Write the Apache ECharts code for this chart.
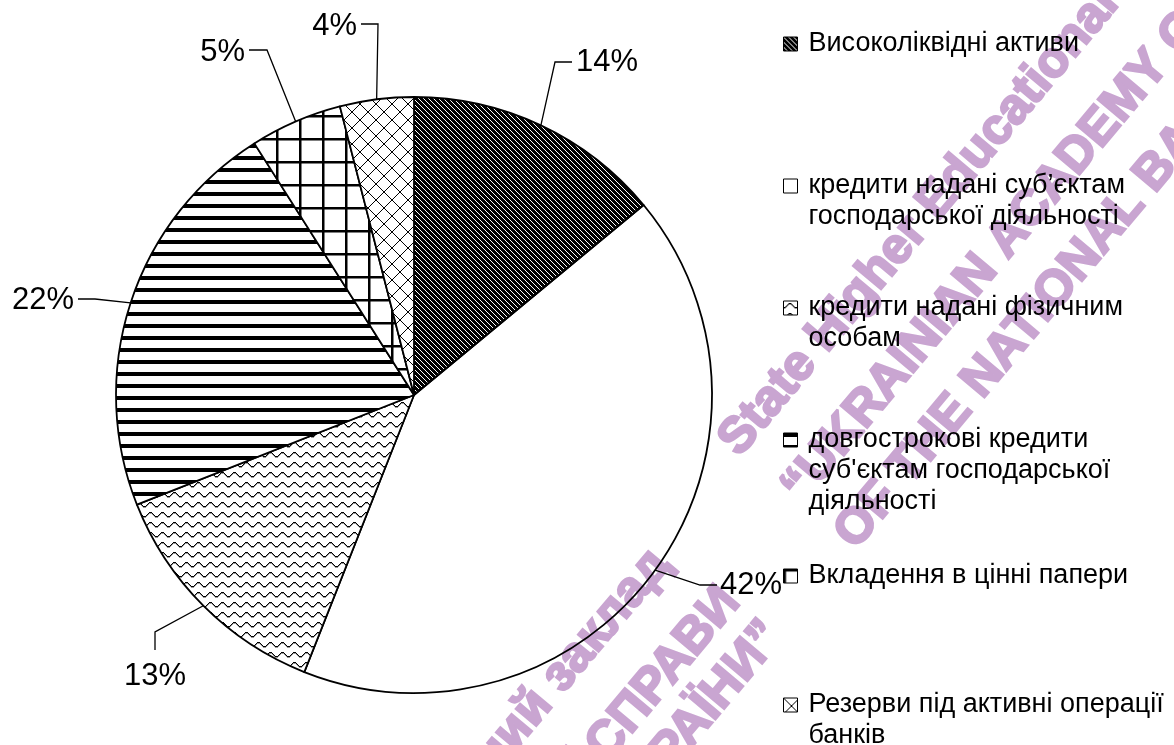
<!DOCTYPE html>
<html><head><meta charset="utf-8">
<script src="https://cdn.jsdelivr.net/npm/echarts@6.0.0/dist/echarts.min.js"></script>
<style>html,body{margin:0;padding:0;background:#fff}#c{width:1174px;height:745px}</style>
</head><body><div id="c"></div><script>
// ---- data ----
const categories = [
  'Високоліквідні активи',
  'кредити надані суб’єктам господарської діяльності',
  'кредити надані фізичним особам',
  'довгострокові кредити суб\'єктам господарської діяльності',
  'Вкладення в цінні папери',
  'Резерви під активні операції банків'
];
const shares = [14, 42, 13, 22, 5, 4];
const legendLines = [
  ['Високоліквідні активи'],
  ['кредити надані суб’єктам', 'господарської діяльності'],
  ['кредити надані фізичним', 'особам'],
  ['довгострокові кредити', 'суб\'єктам господарської', 'діяльності'],
  ['Вкладення в цінні папери'],
  ['Резерви під активні операції', 'банків']
];
const watermarkEn = ['State Higher Educational Institution', '“UKRAINIAN ACADEMY OF BANKING', 'OF THE NATIONAL BANK OF UKRAINE”'];
const watermarkUa = ['Державний вищий навчальний заклад', '“УКРАЇНСЬКА АКАДЕМІЯ БАНКІВСЬКОЇ СПРАВИ', 'НАЦІОНАЛЬНОГО БАНКУ УКРАЇНИ”'];

// ---- patterns ----
function cv(w, h, draw) { const c = document.createElement('canvas'); c.width = w; c.height = h; const g = c.getContext('2d'); g.fillStyle = '#fff'; g.fillRect(0, 0, w, h); g.fillStyle = '#000'; draw(g, w, h); return c; }
const patDiag = cv(5, 5, (g) => { g.fillRect(0,0,5,5); g.fillStyle='#fff'; for (let y=0;y<5;y++) for (let x=0;x<5;x++){ const d=((x-y)%5+5)%5; if (d===0) g.fillRect(x,y,1,1);} });
const patWave = cv(12, 10, (g) => { const ys=[4,4,3,2,1,0,0,0,1,2,3,4]; for (let x=0;x<12;x++) g.fillRect(x, ys[x]+2, 1, 1.4); });
const patHoriz = cv(4, 12, (g) => { g.fillRect(0,0,4,4); });
const patGrid = cv(23, 23, (g) => { g.fillRect(0,0,23,2.5); g.fillRect(0,0,2.5,23); });
const patDiamond = cv(16, 16, (g) => { for (let i=0;i<16;i++){ g.fillRect(i,i,1,1); g.fillRect(15-i,i,1,1);} });
const patterns = [patDiag, null, patWave, patHoriz, patGrid, patDiamond];

// ---- layout (label placement) ----
const labelSpots = [
  {elbow:[555,62], end:[572,62], at:[576,62], align:'left'},
  {elbow:[700,585], end:[717,585], at:[720,585], align:'left'},
  {elbow:[155,632], end:[155,650], at:[155,676], align:'center'},
  {elbow:[95,299], end:[78,299], at:[74,300], align:'right'},
  {elbow:[267,50], end:[249,50], at:[245,52], align:'right'},
  {elbow:[378,24], end:[361,24], at:[357,26], align:'right'}
];
const legendFirstLine = [40, 182, 304, 436, 572, 701];
const LH = 31;
const FONT = '"Liberation Sans", Arial, sans-serif';

const chart = echarts.init(document.getElementById('c'), null, {renderer: 'canvas'});
const rot = 50 * Math.PI / 180;
const wmStyle = (t, al) => ({text: t, font: 'bold 50px ' + FONT, fill: '#c9a5d1', stroke: '#c9a5d1', lineWidth: 2.5,
  align: al, textAlign: al, verticalAlign: 'bottom', textVerticalAlign: 'bottom'});
const wmPos = [[748,465],[811,512],[864,558]];
const wmPosUa = [[680,572],[750,610],[793,644]];
const graphics = [];
watermarkEn.forEach((t,i)=>graphics.push({type:'text', x: wmPos[i][0], y: wmPos[i][1], rotation: rot, z: -1, silent: true, style: wmStyle(t,'left')}));
watermarkUa.forEach((t,i)=>graphics.push({type:'text', x: wmPosUa[i][0], y: wmPosUa[i][1], rotation: rot, z: -1, silent: true, style: wmStyle(t,'right')}));

chart.setOption({
  animation: false,
  backgroundColor: '#fff',
  graphic: {elements: graphics},
  legend: categories.map((name, i) => {
    const n = legendLines[i].length;
    const padded = new Array(n - 1).fill('').concat(legendLines[i]).join('\n');
    return {
      data: [name], left: 778, top: legendFirstLine[i] - (n - 1) * LH - LH / 2 - 1,
      orient: 'vertical', icon: 'rect', itemWidth: 14, itemHeight: 14, selectedMode: false,
      itemStyle: {borderColor: '#000', borderWidth: 1},
      formatter: () => padded,
      textStyle: {fontFamily: FONT, fontSize: 27, color: '#000', lineHeight: LH, padding: [0,0,0,6]}
    };
  }),
  series: [{
    type: 'pie',
    center: [414, 395],
    radius: 298,
    startAngle: 90,
    clockwise: true,
    avoidLabelOverlap: false,
    data: categories.map((name, i) => ({
      name, value: shares[i],
      itemStyle: {color: patterns[i] ? {image: patterns[i], repeat: 'repeat'} : 'rgba(255,255,255,0)'}
    })),
    itemStyle: {borderColor: '#000', borderWidth: 1.8},
    label: {show: true, position: 'outside', formatter: (p) => p.value + '%', fontFamily: FONT, fontSize: 31, color: '#000'},
    labelLine: {show: true, length: 10, length2: 10, smooth: false, lineStyle: {color: '#000', width: 1.3}},
    labelLayout: function (params) {
      const s = labelSpots[params.dataIndex];
      const p0 = params.labelLinePoints ? params.labelLinePoints[0] : s.elbow;
      return {x: s.at[0], y: s.at[1], align: s.align, verticalAlign: 'middle', labelLinePoints: [p0, s.elbow, s.end]};
    },
    emphasis: {disabled: true}
  }]
});
</script></body></html>
